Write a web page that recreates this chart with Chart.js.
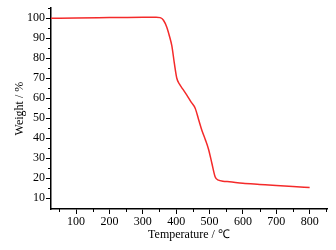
<!DOCTYPE html>
<html>
<head>
<meta charset="utf-8">
<script src="https://cdn.jsdelivr.net/npm/chart.js@4"></script>
<style>
  html, body { margin: 0; padding: 0; background: #fff; }
</style>
</head>
<body>
<canvas id="tga" width="336" height="250"></canvas>
<script>
// temperatures (°C) and weights (%)
const temps = [25, 100, 200, 300, 340, 352, 362, 372, 380, 387, 395, 402, 410, 420, 432, 445, 457, 467, 477, 487, 497, 507, 517, 527, 540, 560, 600, 650, 700, 750, 800];
const weights = [100, 100.1, 100.3, 100.5, 100.5, 100.3, 99, 95.5, 91, 86.3, 77, 70, 67, 64.5, 61.5, 58, 55, 49.5, 44, 39.5, 34.5, 27.5, 20.6, 19, 18.5, 18.2, 17.5, 16.9, 16.3, 15.8, 15.4];
const xTicks = [100, 200, 300, 400, 500, 600, 700, 800];
const yTicks = [10, 20, 30, 40, 50, 60, 70, 80, 90, 100];

const serif = "'Liberation Serif', 'Times New Roman', serif";

// small ticks halfway between the labelled ones
const minorTicks = {
  id: "minorTicks",
  afterDraw(chart) {
    const ctx = chart.ctx;
    const x = chart.scales.x, y = chart.scales.y;
    ctx.save();
    ctx.strokeStyle = "#000";
    ctx.lineWidth = 1;
    ctx.beginPath();
    for (let v = 50; v <= 850; v += 100) {
      const px = Math.round(x.getPixelForValue(v)) + 0.5;
      ctx.moveTo(px, x.top);
      ctx.lineTo(px, x.top + 3);
    }
    for (let v = 15; v <= 105; v += 10) {
      const py = Math.round(y.getPixelForValue(v)) + 0.5;
      ctx.moveTo(y.right, py);
      ctx.lineTo(y.right - 3, py);
    }
    ctx.stroke();
    ctx.restore();
  }
};

new Chart(document.getElementById("tga"), {
  type: "line",
  data: {
    datasets: [{
      data: temps.map((t, i) => ({ x: t, y: weights[i] })),
      borderColor: "#f42a2a",
      borderWidth: 1.5,
      pointRadius: 0,
      cubicInterpolationMode: "monotone",
      fill: false
    }]
  },
  options: {
    responsive: false,
    animation: false,
    devicePixelRatio: 1,
    layout: { padding: { top: 5, right: 9, left: 0, bottom: 0 } },
    plugins: { legend: { display: false }, tooltip: { enabled: false } },
    scales: {
      x: {
        type: "linear",
        min: 25,
        max: 852,
        afterBuildTicks: s => { s.ticks = xTicks.map(v => ({ value: v })); },
        afterFit: s => { s.height = 41; },
        border: { display: true, color: "#000", width: 1.5 },
        grid: { drawOnChartArea: false, tickLength: 5, color: "#000" },
        ticks: { color: "#000", font: { family: serif, size: 12 }, padding: 1, maxRotation: 0, autoSkip: false },
        title: { display: true, text: "Temperature / ℃", color: "#000", font: { family: serif, size: 12 }, padding: { top: 0, bottom: 8 } }
      },
      y: {
        min: 4.6,
        max: 105,
        afterBuildTicks: s => { s.ticks = yTicks.map(v => ({ value: v })); },
        afterFit: s => { s.width = 51; },
        border: { display: true, color: "#000", width: 1.5 },
        grid: { drawOnChartArea: false, tickLength: 5, color: "#000" },
        ticks: { color: "#000", font: { family: serif, size: 12 }, padding: 1, autoSkip: false },
        title: { display: true, text: "Weight / %", color: "#000", font: { family: serif, size: 12 }, padding: { top: 13, bottom: 0 } }
      }
    }
  },
  plugins: [minorTicks]
});
</script>
</body>
</html>
